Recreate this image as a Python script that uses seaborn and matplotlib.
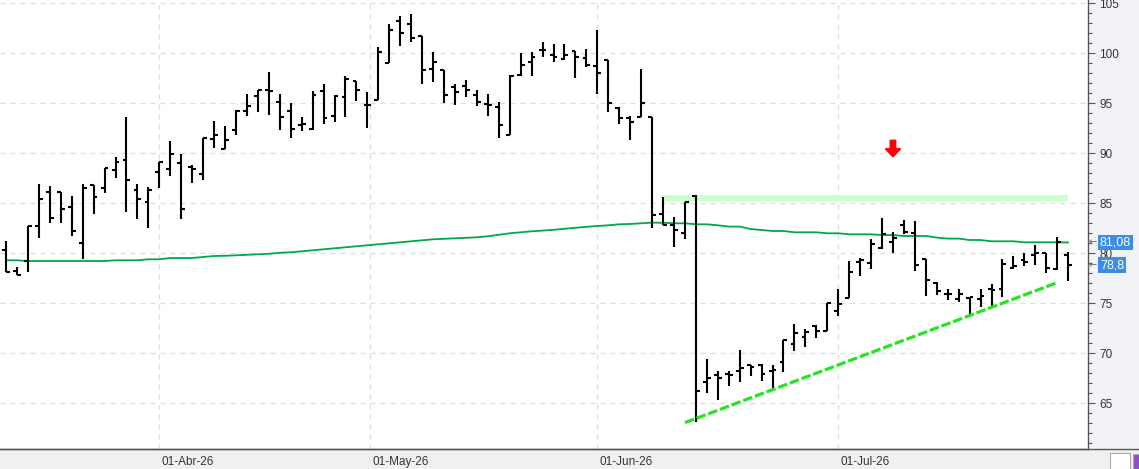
import numpy as np
import pandas as pd
import matplotlib
matplotlib.use("Agg")
import matplotlib.pyplot as plt
import matplotlib.transforms as mtransforms
from matplotlib.lines import Line2D
from matplotlib.patches import Rectangle
from matplotlib.ticker import MultipleLocator
import seaborn as sns

# trading days (Spanish market holidays removed)
holidays = ["2026-04-03", "2026-04-06", "2026-05-01"]
dates = pd.bdate_range("2026-03-12", "2026-07-30")
dates = dates[~dates.isin(pd.to_datetime(holidays))]

opens = [80.30, 78.20, 79.23, 82.70, 86.13, 86.13, 84.60, 81.00, 86.80, 86.50,
         88.30, 89.30, 86.30, 85.13, 88.10, 88.40, 89.00, 88.67, 87.93, 91.40,
         90.40, 92.30, 94.23, 95.77, 96.33, 95.13, 94.20, 92.87, 92.40, 96.23,
         93.70, 95.67, 97.23, 94.80, 95.30, 99.00, 103.20, 102.90, 101.73, 98.40,
         98.33, 96.60, 96.70, 95.80, 94.97, 94.60, 91.87, 97.80, 99.10, 100.30,
         99.83, 99.40, 100.20, 99.50, 98.73, 99.30, 94.50, 93.50, 93.67, 93.67,
         83.90, 82.80, 82.00, 85.73, 67.17, 67.80, 67.97, 68.20, 68.80, 68.83,
         68.27, 69.10, 70.90, 71.63, 72.73, 72.20, 74.23, 75.50, 79.17, 79.03,
         80.57, 81.10, 82.80, 82.00, 79.47, 77.07, 75.97, 75.40, 75.53, 75.43,
         76.40, 76.43, 78.57, 79.30, 79.83, 80.00, 78.47, 79.87]
highs = [81.23, 78.60, 82.77, 86.93, 86.70, 86.13, 85.73, 86.93, 86.87, 88.53,
         89.60, 93.67, 86.93, 86.60, 89.10, 91.20, 89.90, 88.83, 91.50, 93.20,
         92.73, 94.30, 95.90, 96.33, 98.17, 95.90, 95.03, 93.60, 96.23, 96.90,
         95.80, 97.73, 97.23, 96.13, 100.60, 102.93, 103.73, 103.90, 101.73, 100.10,
         98.33, 96.90, 97.33, 96.33, 95.93, 95.13, 97.80, 100.03, 100.13, 101.13,
         100.93, 100.90, 100.20, 100.40, 102.30, 99.30, 94.60, 93.73, 98.40, 93.67,
         85.60, 83.60, 85.17, 85.83, 69.40, 68.23, 68.23, 70.33, 68.87, 68.93,
         68.87, 71.30, 72.93, 72.47, 72.80, 75.00, 76.43, 79.27, 79.53, 81.47,
         83.50, 82.17, 83.33, 83.20, 79.47, 77.17, 76.47, 76.40, 75.67, 76.40,
         76.93, 79.47, 79.73, 80.00, 80.80, 80.00, 81.60, 80.17]
lows = [78.17, 77.80, 78.17, 81.57, 83.07, 83.07, 81.77, 79.47, 83.97, 86.03,
        87.57, 84.17, 83.47, 82.57, 86.57, 87.73, 83.47, 87.07, 87.37, 90.57,
        90.40, 91.87, 93.77, 94.17, 93.87, 92.37, 91.57, 92.27, 92.37, 92.90,
        93.17, 93.67, 95.20, 92.57, 95.30, 99.00, 100.77, 101.10, 96.97, 97.17,
        95.07, 94.87, 95.67, 94.77, 93.73, 91.57, 91.87, 97.70, 97.77, 99.60,
        99.17, 99.30, 97.57, 98.60, 95.90, 94.17, 92.97, 91.30, 93.60, 82.50,
        82.83, 80.67, 81.40, 63.17, 66.07, 65.33, 66.77, 67.13, 67.77, 67.27,
        66.53, 68.17, 70.20, 70.67, 71.57, 72.20, 73.77, 75.50, 77.73, 78.47,
        80.40, 80.07, 81.97, 78.23, 75.77, 75.87, 75.33, 75.17, 73.80, 74.67,
        74.73, 75.67, 78.43, 78.77, 78.87, 78.07, 78.33, 77.20]
closes = [78.17, 77.80, 82.77, 85.40, 83.50, 84.40, 82.20, 86.50, 85.60, 88.53,
          89.13, 87.30, 85.40, 86.33, 89.10, 89.93, 84.47, 88.47, 91.50, 91.83,
          91.30, 94.23, 94.70, 96.33, 96.23, 93.60, 92.43, 92.93, 95.80, 93.50,
          95.73, 97.40, 96.33, 94.80, 100.10, 102.30, 102.00, 101.50, 98.30, 99.13,
          95.80, 96.13, 96.37, 95.13, 94.87, 92.80, 97.70, 98.83, 99.60, 100.30,
          99.67, 99.83, 99.60, 98.80, 98.07, 95.00, 93.50, 93.10, 95.00, 83.83,
          82.83, 82.33, 85.17, 66.20, 67.50, 67.50, 67.83, 68.53, 68.63, 67.93,
          68.33, 71.30, 72.00, 72.10, 72.20, 75.00, 74.90, 78.17, 79.33, 80.97,
          81.90, 81.57, 82.10, 78.80, 77.30, 76.20, 75.90, 75.97, 75.67, 75.77,
          76.33, 78.90, 78.77, 79.10, 80.03, 78.53, 81.10, 78.80]
# long moving average (green line)
ma = [79.30, 79.30, 79.23, 79.23, 79.23, 79.23, 79.23, 79.23, 79.23, 79.23,
      79.30, 79.30, 79.30, 79.40, 79.40, 79.53, 79.53, 79.53, 79.63, 79.73,
      79.75, 79.80, 79.85, 79.90, 79.95, 80.05, 80.10, 80.20, 80.30, 80.40,
      80.50, 80.60, 80.70, 80.80, 80.90, 81.00, 81.10, 81.20, 81.30, 81.40,
      81.45, 81.50, 81.55, 81.60, 81.70, 81.85, 82.00, 82.10, 82.20, 82.27,
      82.35, 82.45, 82.55, 82.65, 82.73, 82.80, 82.90, 82.93, 83.00, 83.07,
      83.05, 83.00, 83.00, 82.90, 82.90, 82.80, 82.67, 82.67, 82.43, 82.33,
      82.23, 82.23, 82.10, 82.10, 82.10, 82.00, 82.00, 81.90, 81.90, 81.90,
      81.83, 81.83, 81.73, 81.73, 81.73, 81.57, 81.47, 81.47, 81.33, 81.33,
      81.20, 81.20, 81.20, 81.10, 81.10, 81.10, 81.10, 81.08]

month_starts = ["2026-04-01", "2026-05-01", "2026-06-01", "2026-07-01"]
month_labels = ["01-Abr-26", "01-May-26", "01-Jun-26", "01-Jul-26"]

# drawings on the chart
trend_idx = [62, 96]
trend_val = [63.07, 77.07]
zone_idx = [59.9, 97.0]
zone_lo, zone_hi = 85.23, 85.83
signal_idx = 81
signal_top, signal_bottom = 91.3, 89.65

df = pd.DataFrame({"date": dates, "open": opens, "high": highs,
                   "low": lows, "close": closes, "ma": ma})
df["i"] = np.arange(len(df))

tick_pos = np.interp(pd.to_datetime(month_starts).map(pd.Timestamp.toordinal),
                     df["date"].map(pd.Timestamp.toordinal), df["i"])

sns.set_style("white")
plt.rcParams["font.family"] = ["Liberation Sans", "DejaVu Sans"]

W, H = 1139, 469
fig = plt.figure(figsize=(W / 100, H / 100), dpi=100, facecolor="#F2F3F6")
fig.patches.append(Rectangle((0, 0), 1, 20 / H, transform=fig.transFigure,
                             fc="#F0F0F0", ec="none", zorder=-1))
ax = fig.add_axes([0, 20 / H, 1088 / W, 449 / H])
ax.set_facecolor("white")

# resistance zone
ax.fill_between(zone_idx, zone_lo, zone_hi, color="#CCFFCC", lw=0, zorder=1)

# moving average
sns.lineplot(data=df, x="i", y="ma", color="#00A84A", lw=1.3, ax=ax, zorder=2)

# OHLC bars
ax.vlines(df["i"], df["low"], df["high"], color="black", lw=1.5, zorder=3)
ax.hlines(df["open"], df["i"] - 0.35, df["i"], color="black", lw=1.5, zorder=3)
ax.hlines(df["close"], df["i"], df["i"] + 0.35, color="black", lw=1.5, zorder=3)

# trend line
ax.plot(trend_idx, trend_val, color="#22E622", lw=2.3, ls=(0, (3, 0.9)), zorder=4)

# sell signal arrow
ax.arrow(signal_idx, signal_top, 0, signal_bottom - signal_top, width=0.5,
         head_width=1.4, head_length=0.8, length_includes_head=True,
         fc="#FF0000", ec="#FF0000", zorder=5)

ax.set_xlim(-0.55, 98.81)
ax.set_ylim(60.43, 105.33)
ax.set_xlabel("")
ax.set_ylabel("")

# axes styling
for side in ["top", "left"]:
    ax.spines[side].set_visible(False)
for side in ["right", "bottom"]:
    ax.spines[side].set_color("#555555")
    ax.spines[side].set_linewidth(1)

ax.yaxis.tick_right()
ax.set_yticks(range(65, 106, 5))
ax.yaxis.set_minor_locator(MultipleLocator(1))
ax.tick_params(axis="y", which="major", length=5, width=0.8, color="#555555",
               pad=3, labelsize=8.5, labelcolor="#333333")
ax.tick_params(axis="y", which="minor", length=2.8, width=0.8, color="#555555")

ax.set_xticks(tick_pos, month_labels)
ax.tick_params(axis="x", which="major", length=6.5, width=0.8, color="#555555",
               pad=-1.5, labelsize=8.5, labelcolor="#333333")
offset = mtransforms.ScaledTranslation(2 / 100, 0, fig.dpi_scale_trans)
for label in ax.get_xticklabels():
    label.set_horizontalalignment("left")
    label.set_transform(label.get_transform() + offset)

ax.grid(True, which="major", color="#DDDDDD", ls=(0, (4, 4)), lw=0.9)
ax.set_axisbelow(True)

# last value tags on the price axis
trans = mtransforms.blended_transform_factory(ax.transAxes, ax.transData)
for val in [ma[-1], closes[-1]]:
    ax.text(1 + 12 / 1088, val, f"{val:g}".replace(".", ","), transform=trans,
            color="white", fontsize=9, va="center", ha="left", zorder=6,
            bbox=dict(boxstyle="square,pad=0.15", fc="#3C8DE8", ec="none"))
    ax.text(1 + 1 / 1088, val, "\u2190", transform=trans, color="#666666",
            fontsize=7, va="center", ha="left", family="DejaVu Sans", zorder=6)

fig.add_artist(Line2D([0, 1], [20 / H, 20 / H], transform=fig.transFigure,
                      color="#555555", lw=1))

# small toolbar buttons in the corner
fig.patches.append(Rectangle((1110 / W, 0), 20 / W, 16 / H, transform=fig.transFigure,
                             fc="white", ec="#AAAAAA", lw=0.8))
fig.patches.append(Rectangle((1133 / W, 0), 8 / W, 15 / H, transform=fig.transFigure,
                             fc="#8E4FC9", ec="#AAAAAA", lw=0.8))

fig.savefig("out.png", dpi=100, facecolor=fig.get_facecolor())
